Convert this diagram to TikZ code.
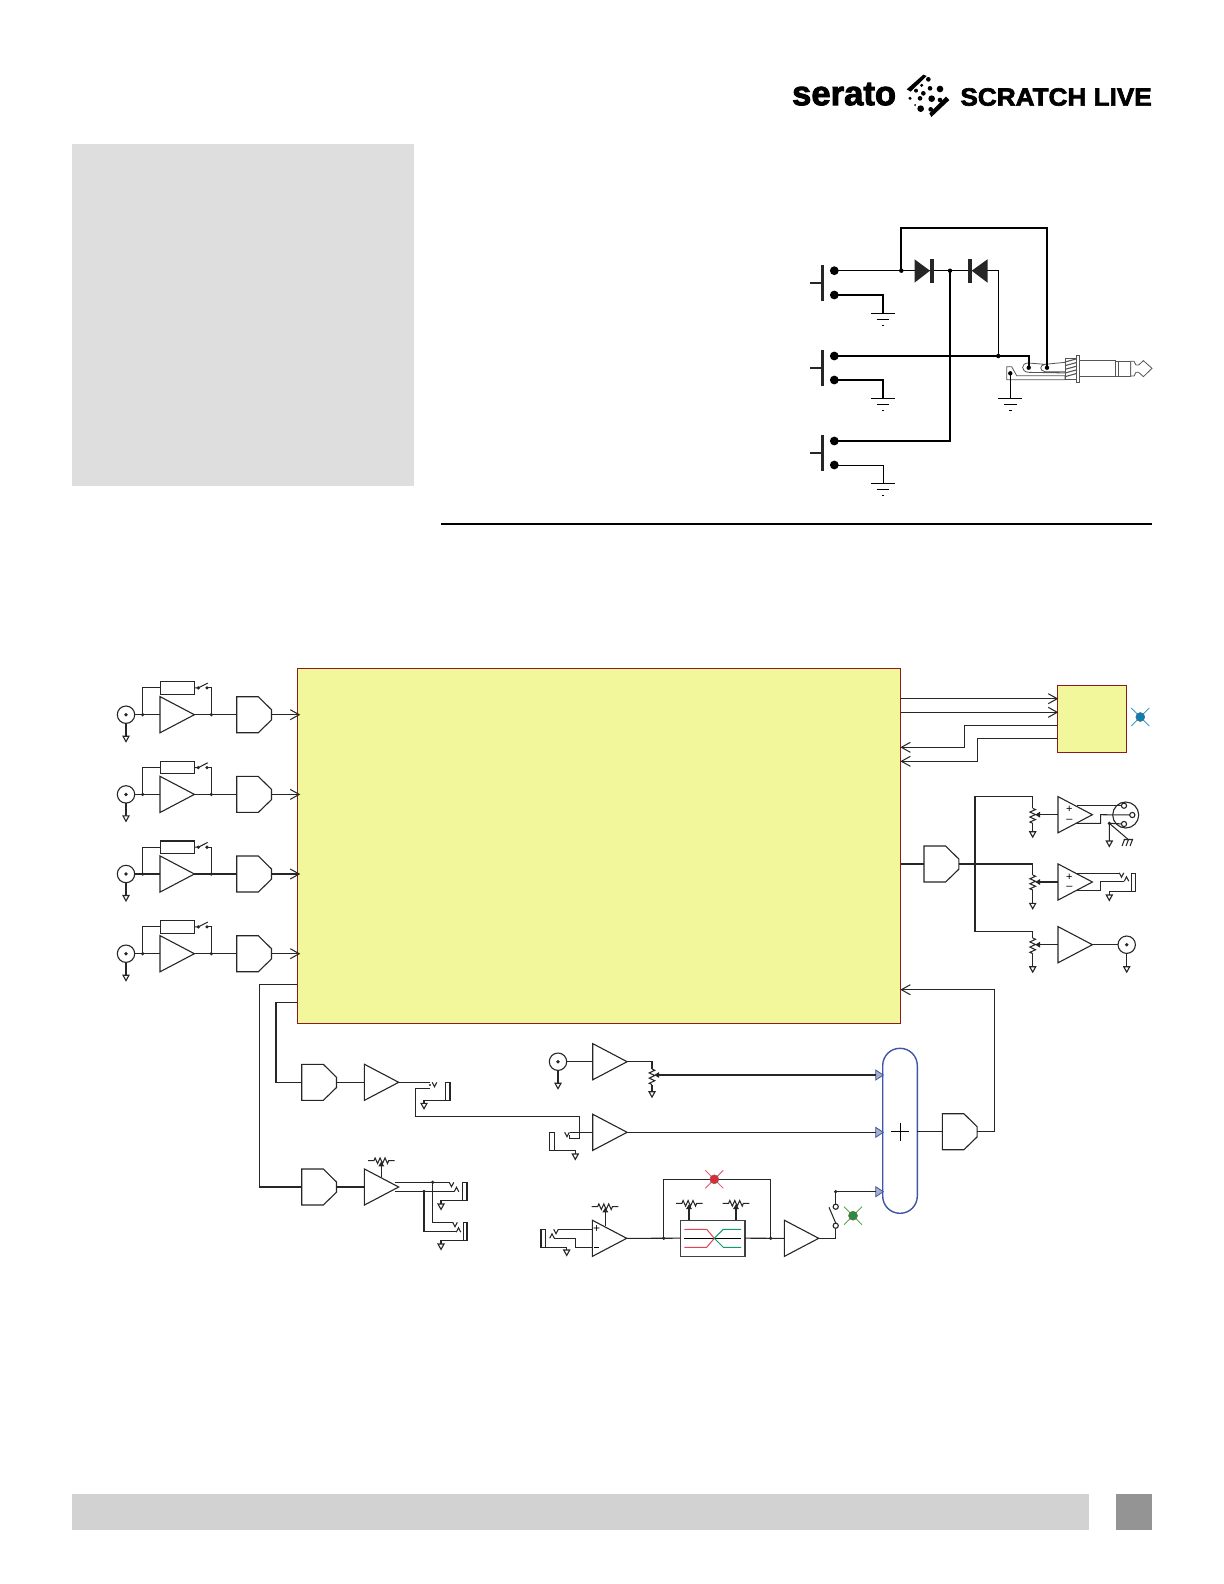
\documentclass[tikz,border=0pt]{standalone}
\usepackage{fontspec}
\usepackage{graphicx}
\usetikzlibrary{arrows.meta,calc}
\setmainfont{Liberation Sans}
\newfontfamily\logofont[FakeBold=2.6]{Liberation Sans}
\definecolor{dspyellow}{HTML}{F3F79C}
\definecolor{dspedge}{HTML}{8A1C1C}
\definecolor{pagegray}{HTML}{DEDEDE}
\definecolor{barmid}{HTML}{D2D2D2}
\definecolor{squaregray}{HTML}{949494}
\definecolor{mixedge}{HTML}{3F55A5}
\definecolor{mixfill}{HTML}{A9AEC9}
\definecolor{wirecol}{HTML}{262626}
\definecolor{plugcol}{HTML}{555555}
\definecolor{ledblue}{HTML}{0A7FB5}
\definecolor{xblue}{HTML}{3A9BD0}
\definecolor{ledred}{HTML}{E02B35}
\definecolor{xred}{HTML}{E8637A}
\definecolor{ledgreen}{HTML}{2E8B3A}
\definecolor{xgreen}{HTML}{55A84F}
\definecolor{fadered}{HTML}{DC4658}
\definecolor{fadegreen}{HTML}{109A70}
\tikzset{
  wire/.style={line width=0.52pt,draw=wirecol},
  part/.style={line width=0.55pt,draw=wirecol,fill=white,line join=miter},
  thinw/.style={line width=0.45pt,draw=black},
  thickw/.style={line width=0.9pt,draw=black},
  inarrow/.style={wire,-{Straight Barb[length=4.5pt,width=5pt]},shorten >=-1.5pt},
  retarrow/.style={wire,-{Straight Barb[length=4.5pt,width=5pt]}},
  wiper/.style={wire,-{Triangle[length=2.4pt,width=2.8pt]}},
  dspbox/.style={draw=dspedge,fill=dspyellow,line width=0.5pt,inner sep=0pt,outer sep=0pt},
  plug/.style={line width=0.4pt,draw=plugcol,fill=white},
}
% triangular amplifier
\newcommand\ampl[3]{%
  \coordinate (#1-in) at (#2,#3);
  \coordinate (#1-out) at (#2+34.4,#3);
  \draw[part] (#2,#3-18.1) -- (#2+34.4,#3) -- (#2,#3+18.1) -- cycle;}
% converter block
\newcommand\conv[3]{%
  \coordinate (#1-in) at (#2,#3);
  \coordinate (#1-out) at (#2+34.8,#3);
  \draw[part] (#2,#3-18) -- (#2+21.6,#3-18) -- (#2+34.8,#3-5) -- (#2+34.8,#3+5.2) -- (#2+21.6,#3+18) -- (#2,#3+18) -- cycle;}
\newcommand\gndt[2]{\draw[part] (#1-3,#2) -- (#1+3,#2) -- (#1,#2+5.4) -- cycle;}
\newcommand\jdot[1]{\fill[wirecol] (#1) circle [radius=1.8];}
% coax socket
\newcommand\bnc[3]{%
  \coordinate (#1) at (#2+8.7,#3);
  \draw[part] (#2,#3) circle [radius=8.7];
  \fill[wirecol] (#2,#3) circle [radius=1.9];
  \draw[wire] (#2,#3+8.7) -- (#2,#3+21.5);
  \gndt{#2}{#3+21.5}}
% vertical pot: x, top of zigzag, step
\newcommand\potv[3]{\draw[wire] (#1,#2) -- (#1+2.8,#2+0.5*#3) -- (#1-2.8,#2+1.5*#3) -- (#1+2.8,#2+2.5*#3) -- (#1-2.8,#2+3.5*#3) -- (#1+2.8,#2+4.5*#3) -- (#1-2.8,#2+5.5*#3) -- (#1,#2+6*#3);}
% horizontal pot: centre x, y
\newcommand\poth[2]{\draw[wire] (#1-13.3,#2) -- (#1-7.4,#2) -- (#1-6.2,#2-2.8) -- (#1-3.7,#2+2.8) -- (#1-1.2,#2-2.8) -- (#1+1.2,#2+2.8) -- (#1+3.7,#2-2.8) -- (#1+6.2,#2+2.8) -- (#1+7.4,#2) -- (#1+13.3,#2);}
\newcommand\vtip[2]{\draw[wire] (#1-2.3,#2-2.2) -- (#1,#2+2.2) -- (#1+2.3,#2-2.2);}
\newcommand\ctip[2]{\draw[wire] (#1-2.3,#2+2.2) -- (#1,#2-2.2) -- (#1+2.3,#2+2.2);}
\newcommand\led[4]{%
  \draw[#4,line width=0.45pt] (#2-9,#3-9) -- (#2+9,#3+9) (#2-9,#3+9) -- (#2+9,#3-9);
  \draw[fill=#1,draw=black!60,line width=0.25pt] (#2,#3) circle [radius=4.5];}
\newcommand\pushsw[2]{%
  \draw[line width=1.25pt,draw=black!85] (#1,#2-5.7) -- (#1,#2+30);
  \draw[line width=1pt,draw=black!85] (#1-12.3,#2+12) -- (#1,#2+12);}
\newcommand\earth[2]{%
  \draw[line width=0.45pt] (#1-12,#2) -- (#1+12,#2) (#1-6.3,#2+6) -- (#1+6.3,#2+6) (#1-1.2,#2+11.7) -- (#1+1.2,#2+11.7);}
\begin{document}
\begin{tikzpicture}[x=0.5pt,y=-0.5pt]
\useasboundingbox (0,0) rectangle (1224,1584);
% page furniture
\fill[pagegray] (72,144) rectangle (414,486);
\fill[barmid] (72,1494) rectangle (1089,1530);
\fill[squaregray] (1116,1494) rectangle (1152,1530);
\coordinate (ruleL) at (441,524);
\coordinate (ruleR) at (1152,524);
\draw[line width=0.9pt] (ruleL) -- (ruleR);
% logo
\node[anchor=base west,inner sep=0pt] (logoA) at (791.7,105.2) {\resizebox{52pt}{11.2pt}{\logofont\bfseries serato}};
\node[anchor=base west,inner sep=0pt] (logoB) at (960,105.6) {\resizebox{95.7pt}{8.7pt}{\logofont\bfseries SCRATCH LIVE}};
\begin{scope}[shift={(770,60)},x=0.16667pt,y=-0.16667pt]
  \fill[black] (410,88) -- (460,44) -- (470,48) -- (422,95) -- cycle;
  \fill[black] (538,120) -- (528,110) -- (478,160) -- (484,171) -- cycle;
  \foreach \dx/\dy/\dr in {475/58/7,455/76/5,480/85/7,510/87/10,438/92/6,460/100/7,485/116/10,510/120/7,420/115/5,450/115/7,435/135/3,452/146/10,482/148/7}
    \fill[black] (\dx,\dy) circle [radius=\dr];
\end{scope}
% ---------- footswitch schematic ----------
\pushsw{822.3}{270.7}
\pushsw{822.3}{356}
\pushsw{822.3}{441}
\foreach \n/\a/\b in {s1/270.7/295,s2/356/380,s3/441/465}{
  \coordinate (\n a) at (834.3,\a);
  \coordinate (\n b) at (834.3,\b);
  \fill (\n a) circle [radius=4.4];
  \fill (\n b) circle [radius=4.4];
}
\coordinate (g1) at (883,313.3);
\coordinate (g2) at (883,398.3);
\coordinate (g3) at (883,483.3);
\coordinate (g4) at (1010.3,398.3);
\earth{883}{313.3}
\earth{883}{398.3}
\earth{883}{483.3}
\earth{1010.3}{398.3}
\draw[thickw] (s1b) -| (g1);
\draw[thickw] (s2b) -| (g2);
\draw[thinw] (s3b) -| (g3);
% diodes
\coordinate (j1) at (901.3,270.7);
\coordinate (j2) at (950,270.7);
\coordinate (j3) at (998.3,270.7);
\coordinate (j4) at (998.3,356);
\coordinate (lugT) at (1047,367.7);
\coordinate (lugR) at (1028.7,367.7);
\coordinate (lugS) at (1010.3,373.3);
% plug
\begin{scope}[shift={(1000,345)},x=0.16667pt,y=-0.16667pt]
  \draw[plug] (20,65) -- (35,65) -- (50,92) -- (195,92) -- (195,104) -- (20,104) -- cycle;
  \draw[plug] (195,84) -- (85,82) .. controls (62,80) and (62,54) .. (85,54) -- (135,58) .. controls (118,60) and (118,78) .. (135,80) -- (195,80);
  \draw[plug] (135,58) -- (195,52);
  \draw[plug] (195,40) rectangle (228,102);
  \foreach \ty in {42,53,64,75,86}
    \draw[plug,line width=0.55pt] (195,\ty+9) -- (228,\ty);
  \draw[plug] (228,30) rectangle (238,112);
  \draw[plug] (238,47) rectangle (345,95);
  \draw[plug] (345,49) rectangle (355,93);
  \draw[plug] (355,49) -- (392,49) -- (392,93) -- (355,93) -- cycle;
  \draw[plug] (392,49) -- (402,49) -- (408,60) -- (416,60) -- (430,47) -- (456,70) -- (430,95) -- (416,82) -- (408,82) -- (402,93) -- (392,93) -- cycle;
\end{scope}
\draw[thinw] (s1a) -- (j3) -- (j4);
\draw[thickw] (j1) |- (1047,228) -- (lugT);
\draw[thickw] (s2a) -| (lugR);
\draw[thickw] (j2) |- (s3a);
\draw[thinw] (lugS) -- (g4);
\fill[black!85] (914.5,259.3) -- (930,270.7) -- (914.5,282.7) -- cycle;
\fill[black!85] (930,259) rectangle (933.5,282.7);
\fill[black!85] (987.5,259.3) -- (971.7,270.7) -- (987.5,282.7) -- cycle;
\fill[black!85] (968.3,259) rectangle (971.7,282.7);
\fill (j1) circle [radius=2.2];
\fill (j2) circle [radius=2.2];
\fill (j4) circle [radius=2.2];
\fill (lugR) circle [radius=2.2];
\fill (lugT) circle [radius=2.2];
\fill (lugS) circle [radius=2.2];
% ---------- main block ----------
\node[dspbox,minimum width=301.7pt,minimum height=177.35pt] (dsp) at (599,845.7) {};
\node[dspbox,minimum width=34.7pt,minimum height=33.5pt] (usb) at (1092,718.8) {};
\led{ledblue}{1140.3}{717}{xblue}
% input rows
\foreach \i/\y in {1/714.7,2/794.4,3/874,4/953.7}{
  \bnc{b\i}{126}{\y}
  \coordinate (jl\i) at (142.7,\y);
  \coordinate (jr\i) at (211.3,\y);
  \ampl{p\i}{160}{\y}
  \conv{c\i}{236.7}{\y}
  \node[draw=wirecol,line width=0.55pt,fill=white,inner sep=0pt,outer sep=0pt,minimum width=17.3pt,minimum height=6.2pt] (r\i) at (177.4,\y-26.8) {};
  \coordinate (sa\i) at (198.3,\y-26.8);
  \coordinate (sb\i) at (207,\y-26.8);
  \coordinate (sc\i) at (211.3,\y-26.8);
  \draw[wire] (b\i) -- (p\i-in);
  \draw[wire] (jl\i) |- (r\i.west);
  \draw[wire] (r\i.east) -- (sa\i) -- (207.7,\y-31.6);
  \draw[wire] (sb\i) -- (sc\i) -- (jr\i);
  \draw[wire] (p\i-out) -- (c\i-in);
  \draw[inarrow] (c\i-out) -- (dsp.west |- c\i-out);
  \jdot{jl\i}
  \jdot{jr\i}
  \fill[wirecol] (sa\i) circle [radius=1.8];
  \fill[wirecol] (sb\i) circle [radius=1.8];
}
% links to the small block
\foreach \yy in {698.7,712.3}{
  \coordinate (ua) at (1057.3,\yy);
  \draw[retarrow,shorten >=-0.5pt] (dsp.east |- ua) -- (ua);
}
\coordinate (ur1) at (1057.3,725.3);
\coordinate (ur2) at (1057.3,738.3);
\coordinate (dr1) at (900.3,747.3);
\coordinate (dr2) at (900.3,761.3);
\draw[retarrow] (ur1) -- (964.3,725.3) -- (964.3,747.3) -- (dr1);
\draw[retarrow] (ur2) -- (977.3,738.3) -- (977.3,761.3) -- (dr2);
% ---------- outputs right ----------
\conv{dm}{924}{864}
\coordinate (jm) at (975,864);
\coordinate (t1) at (1032.7,796.3);
\coordinate (t2) at (1032.7,864);
\coordinate (t3) at (1032.7,931.3);
\draw[wire] (dsp.east |- dm-in) -- (dm-in);
\draw[wire] (dm-out) -- (t2);
\draw[wire] (t1) -- (975,796.3) -- (975,931.3) -- (t3);
\jdot{jm}
\draw[wire] (t1) -- (1032.7,808.3);
\potv{1032.7}{808.3}{2.5}
\draw[wire] (1032.7,823.3) -- (1032.7,831.7);
\gndt{1032.7}{831.7}
\draw[wire] (t2) -- (1032.7,875);
\potv{1032.7}{875}{2.5}
\draw[wire] (1032.7,890) -- (1032.7,903.3);
\gndt{1032.7}{903.3}
\draw[wire] (t3) -- (1032.7,938);
\potv{1032.7}{938}{2.6}
\draw[wire] (1032.7,953.6) -- (1032.7,966.7);
\gndt{1032.7}{966.7}
\ampl{o1}{1058}{814.7}
\ampl{o2}{1058}{882}
\ampl{o3}{1058}{944.7}
\draw[wiper] (o1-in) -- (1035.2,814.7);
\draw[wiper] (o2-in) -- (1035.2,882);
\draw[wiper] (o3-in) -- (1035.2,944.7);
\node[inner sep=0pt,font=\fontsize{5.5}{5.5}\selectfont] (pl1) at (1069.3,809.6) {+};
\node[inner sep=0pt,font=\fontsize{5.5}{5.5}\selectfont] (mi1) at (1069.3,820.6) {–};
\node[inner sep=0pt,font=\fontsize{5.5}{5.5}\selectfont] (pl2) at (1069.3,876.9) {+};
\node[inner sep=0pt,font=\fontsize{5.5}{5.5}\selectfont] (mi2) at (1069.3,887.9) {–};
% XLR
\coordinate (xc) at (1125.7,815);
\coordinate (x1) at (1124,805.7);
\coordinate (x2) at (1132.3,815);
\coordinate (x3) at (1124,824);
\coordinate (xg) at (1109.3,823.3);
\draw[part] (xc) circle [radius=13];
\draw[wire] (1076.7,805.7) -- (x1);
\draw[wire] (1076.7,823.3) -- (1100.7,823.3) -- (1100.7,814.7) -- (x2);
\draw[wire] (x3) -- (xg) -- (1109.3,841);
\gndt{1109.3}{841}
\draw[wire] (xg) -- (1128,839.3);
\draw[wire] (1123.5,839.5) -- (1133,839.5) (1124.5,839.5) -- (1122,846) (1128.5,839.5) -- (1126,846) (1132.5,839.5) -- (1130,846);
\jdot{xg}
\foreach \p in {x1,x2,x3}{\draw[part] (\p) circle [radius=2.6];}
% TRS out
\draw[wire] (1076.7,873.3) -- (1120,873.3);
\vtip{1121.5}{875}
\draw[wire] (1076.7,890.7) -- (1100.7,890.7) -- (1100.7,881.7) -- (1124,881.7);
\ctip{1126.5}{879}
\coordinate (sl1) at (1131.7,891.7);
\draw[part] (1131.7,873.3) rectangle (1135.6,891.7);
\draw[wire] (sl1) -- (1109.3,891.7) -- (1109.3,895);
\gndt{1109.3}{895}
% coax out
\draw[part] (1126.7,944.7) circle [radius=8.7];
\coordinate (oc) at (1126.7,944.7);
\draw[wire] (o3-out) -- (1118,944.7);
\fill[wirecol] (oc) circle [radius=1.9];
\draw[wire] (oc) ++(0,8.7) -- (1126.7,966.7);
\gndt{1126.7}{966.7}
% ---------- bottom left ----------
\conv{d3}{301.7}{1082.3}
\conv{d4}{301.7}{1187}
\ampl{h1}{364.3}{1082.3}
\ampl{h2}{364.3}{1187}
\coordinate (dl1) at (276,1002.8);
\coordinate (dl2) at (259.5,984.6);
\draw[wire] (dsp.west |- dl1) -- (dl1) |- (d3-in);
\draw[wire] (dsp.west |- dl2) -- (dl2) |- (d4-in);
\draw[wire] (d3-out) -- (h1-in);
\draw[wire] (d4-out) -- (h2-in);
% send
\coordinate (s0) at (430,1082.3);
\draw[wire] (h1-out) -- (s0);
\fill[wirecol] (430,1085) circle [radius=1.2];
\vtip{434.5}{1084.5}
\draw[part] (445.3,1082.3) rectangle (450,1100.3);
\draw[wire] (445.3,1100.3) -- (424,1100.3) -- (424,1103.3);
\gndt{424}{1103.3}
\coordinate (k1) at (430,1088.7);
\coordinate (k2) at (579.3,1116.3);
\coordinate (k3) at (569.3,1135);
\ampl{m2}{592.7}{1132.3}
\draw[wire] (k1) -- (415.3,1088.7) -- (415.3,1116.3) -- (k2) -- (579.3,1138.3) -- (569.3,1138.3) -- (k3);
% booth outputs
\poth{381.3}{1160.7}
\coordinate (h2w) at (381.3,1176.7);
\draw[wiper] (h2w) -- (381.3,1161.5);
\coordinate (q1) at (432.7,1182.3);
\coordinate (q2) at (424,1191.3);
\draw[wire] (394.7,1182.3) -- (449.3,1182.3);
\draw[wire] (394.7,1191.3) -- (454,1191.3);
\vtip{451.5}{1184.5}
\ctip{456.5}{1189.5}
\draw[wire] (q1) -- (432.7,1222.7) -- (452.7,1222.7);
\draw[wire] (q2) -- (424,1231.7) -- (456,1231.7);
\vtip{455}{1224.5}
\ctip{458.5}{1230}
\jdot{q1}
\jdot{q2}
\draw[part] (462.7,1182.7) rectangle (467,1200.7);
\draw[wire] (462.7,1200.7) -- (441,1200.7) -- (441,1204);
\gndt{441}{1204}
\draw[part] (463.3,1222.7) rectangle (467,1240.7);
\draw[wire] (463.3,1240.7) -- (441,1240.7) -- (441,1244);
\gndt{441}{1244}
% ---------- middle inputs ----------
\bnc{mb}{558}{1061.7}
\ampl{m1}{592.7}{1061.7}
\draw[wire] (mb) -- (m1-in);
\draw[wire] (m1-out) -- (652,1061.7) -- (652,1069);
\potv{652}{1069}{2.6}
\draw[wire] (652,1084.6) -- (652,1091.7);
\gndt{652}{1091.7}
% mixer
\draw[mixedge,line width=0.7pt,fill=white,rounded corners=8.6pt] (882.7,1048.3) rectangle (917.3,1213.3);
\coordinate (mixc) at (900,1131.7);
\draw[line width=0.45pt] (mixc) ++(-9,0) -- ++(18,0);
\draw[line width=0.45pt] (mixc) ++(0,-9) -- ++(0,18);
\coordinate (ma1) at (875.7,1075);
\coordinate (ma2) at (875.7,1132.3);
\coordinate (ma3) at (875.7,1191.7);
\foreach \a in {ma1,ma2,ma3}{
  \draw[fill=mixfill,draw=mixedge,line width=0.4pt] (\a) ++(0,-5) -- ++(7.6,5) -- ++(-7.6,5) -- cycle;
}
\draw[wire,{Triangle[length=2.4pt,width=2.8pt]}-] (654.3,1075) -- (ma1);
\draw[wire] (m2-out) -- (ma2);
% second mid input jack
\draw[wire] (m2-in) -- (570,1132.3);
\vtip{567}{1134.5}
\draw[part] (549.3,1132.3) rectangle (554.3,1150.3);
\draw[wire] (554.3,1150.3) -- (575.3,1150.3) -- (575.3,1154);
\gndt{575.3}{1154}
% bottom chain
\ampl{m3}{592.3}{1238.3}
\poth{605}{1206.7}
\coordinate (m3w) at (605.3,1226);
\draw[wiper] (m3w) -- (605.3,1207.5);
\draw[wire] (592.3,1229.3) -- (558.3,1229.3);
\vtip{556}{1231.5}
\draw[wire] (592.3,1247.3) -- (575.7,1247.3) -- (575.7,1238.3) -- (554.3,1238.3);
\ctip{552}{1236}
\draw[part] (541,1229.3) rectangle (545.7,1247.3);
\draw[wire] (545.7,1247.3) -- (566.7,1247.3) -- (566.7,1250);
\gndt{566.7}{1250}
\node[inner sep=0pt,font=\fontsize{6}{6}\selectfont] (pl3) at (596.7,1229) {+};
\draw[line width=0.4pt] (594.2,1247.3) -- (599,1247.3);
% crossfader block
\node[draw=black!75,line width=0.55pt,fill=white,inner sep=0pt,outer sep=0pt,minimum width=32.35pt,minimum height=17.85pt] (xf) at (712.65,1238.2) {};
\coordinate (jx1) at (663.7,1238.3);
\coordinate (jx2) at (770.7,1238.3);
\ampl{m4}{784.3}{1238.3}
\draw[wire] (m3-out) -- (xf.west);
\draw[wire] (xf.east) -- (m4-in);
\draw[wire] (jx1) -- (663.7,1179.3) -- (770.7,1179.3) -- (jx2);
\jdot{jx1}
\jdot{jx2}
\led{ledred}{714.3}{1179.3}{xred}
\draw[black,line width=0.45pt] (684.3,1238.3) -- (741,1238.3);
\draw[fadered,line width=0.5pt] (684.3,1229.3) -- (706.7,1229.3) -- (714.3,1238.3);
\draw[fadered,line width=0.5pt] (684.3,1247.3) -- (706.7,1247.3) -- (714.3,1238.3);
\draw[fadegreen,line width=0.5pt] (741,1229.3) -- (723.3,1229.3) -- (714.3,1238.3);
\draw[fadegreen,line width=0.5pt] (741,1247.3) -- (723.3,1247.3) -- (714.3,1238.3);
\poth{689.3}{1203.3}
\poth{736}{1203.3}
\draw[wiper] (689 ,1220.3) -- (689,1204.2);
\draw[wiper] (736,1220.3) -- (736,1204.2);
% switch to mixer
\coordinate (sw1) at (835.7,1225.7);
\coordinate (sw2) at (835.7,1206.7);
\coordinate (sw3) at (835.7,1191.7);
\draw[wire] (m4-out) -- (835.7,1238.3) -- (sw1);
\draw[wire] (sw2) -- (sw3) -- (ma3);
\draw[wire] (835.7,1223) -- (829,1207.3);
\draw[part] (sw1) circle [radius=2.6];
\draw[part] (sw2) circle [radius=2.6];
\jdot{sw3}
\led{ledgreen}{853}{1215.7}{xgreen}
% mixer output
\conv{dz}{942.3}{1131.7}
\draw[wire] (917.3,1131.7) -- (dz-in);
\coordinate (back) at (900.3,989.7);
\draw[retarrow] (dz-out) -- (994.7,1131.7) -- (994.7,989.7) -- (back);
\end{tikzpicture}
\end{document}
